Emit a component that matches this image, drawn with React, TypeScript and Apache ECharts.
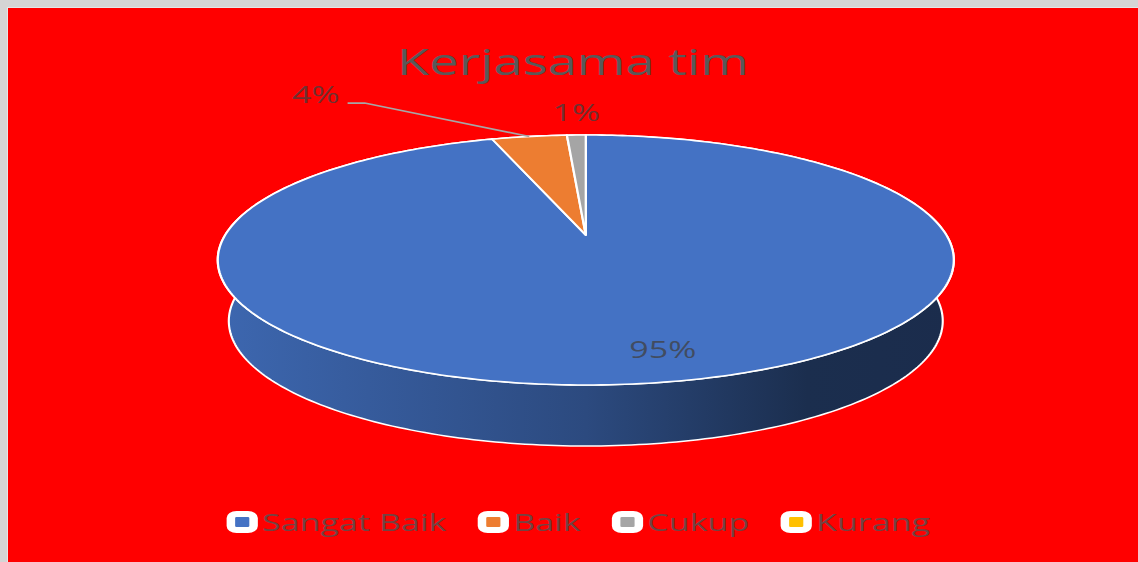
import React, { useEffect, useRef } from "react";
import * as echarts from "echarts";

// ---------- data ----------
const TITLE = "Kerjasama tim";
const CATEGORIES = ["Sangat Baik", "Baik", "Cukup", "Kurang"];
const VALUES = [95, 4, 1, 0];
const COLORS = ["#4472C4", "#ED7D31", "#A5A5A5", "#FFC000"];

// ---------- layout (unstretched chart coordinates) ----------
const W = 796;
const H = 554;
const STRETCH = 1130 / W;
const FONT = "'Open Sans', 'Noto Sans', sans-serif";
const PIE = { cx: 407, cy: 227, A: 254, B: 120, persp: 0.2, depth: 61, bottomScale: 0.97 };

// label placement per category
const LABEL_LAYOUT: any[] = [
  { mode: "inside", f: 0.81, dx: 16, dy: 0 },
  { mode: "leader", bend: [-116, -33.4], end: [-128, -33.4], text: [-150.4, -42.4] },
  { mode: "outside", dx: 0, dy: -23 },
  { mode: "outside", dx: 0, dy: -23 },
];

const SUM = VALUES.reduce((a, b) => a + b, 0);
const SLICES = (() => {
  let acc = 0;
  return VALUES.map((v) => {
    const s0 = (acc / SUM) * 360;
    acc += v;
    const s1 = (acc / SUM) * 360;
    return [s0, s1, v];
  });
})();

function pt(theta: number, f = 1, bottom = false): number[] {
  const t = (theta * Math.PI) / 180;
  const u = f * Math.sin(t);
  const v = f * Math.cos(t);
  const d = 1 + PIE.persp * v;
  const k = bottom ? PIE.bottomScale : 1;
  return [PIE.cx + (PIE.A * k * u) / d, PIE.cy - (PIE.B * v) / d + (bottom ? PIE.depth : 0)];
}

function shade(hex: string, k: number): string {
  const n = parseInt(hex.slice(1), 16);
  const r = Math.round(((n >> 16) & 255) * k);
  const g = Math.round(((n >> 8) & 255) * k);
  const b = Math.round((n & 255) * k);
  return `rgb(${r},${g},${b})`;
}

function makeSeries(i: number) {
  const color = COLORS[i];
  const lay = LABEL_LAYOUT[i];
  return {
    type: "custom",
    name: CATEGORIES[i],
    coordinateSystem: "none",
    silent: true,
    itemStyle: { color },
    data: [SLICES[i]],
    renderItem: (params: any, api: any) => {
      const s0 = api.value(0);
      const s1 = api.value(1);
      const val = api.value(2);
      if (!(s1 - s0 > 0)) return { type: "group", children: [] };
      const n = Math.max(2, Math.ceil(s1 - s0));
      const topArc: number[][] = [];
      const botArc: number[][] = [];
      for (let k = 0; k <= n; k++) {
        const th = s0 + ((s1 - s0) * k) / n;
        topArc.push(pt(th));
        botArc.push(pt(th, 1, true));
      }
      const apex = pt(0, 0);
      const children: any[] = [];
      children.push({
        type: "polygon",
        z2: 0,
        shape: { points: topArc.concat(botArc.slice().reverse()) },
        style: {
          fill: {
            type: "linear",
            x: PIE.cx - PIE.A - 6,
            y: 0,
            x2: PIE.cx + PIE.A + 6,
            y2: 0,
            global: true,
            colorStops: [
              { offset: 0, color: shade(color, 0.9) },
              { offset: 0.5, color: shade(color, 0.65) },
              { offset: 0.8, color: shade(color, 0.4) },
              { offset: 1, color: shade(color, 0.39) },
            ],
          },
          stroke: "#ffffff",
          lineWidth: 1.5,
          lineJoin: "round",
        },
      });
      children.push({
        type: "polygon",
        z2: 10,
        shape: { points: [apex].concat(topArc) },
        style: { fill: color, stroke: "#ffffff", lineWidth: 1.6, lineJoin: "round" },
      });
      const label = Math.round((val / SUM) * 100) + "%";
      const mid = (s0 + s1) / 2;
      const textStyle = {
        fill: "rgba(64,64,64,0.75)",
        fontSize: 24,
        fontFamily: FONT,
        align: "center",
        verticalAlign: "middle",
      };
      if (lay.mode === "inside") {
        const p = pt(mid, lay.f);
        children.push({ type: "text", z2: 20, style: { ...textStyle, text: label, x: p[0] + lay.dx, y: p[1] + lay.dy } });
      } else if (lay.mode === "outside") {
        const p = pt(mid);
        children.push({ type: "text", z2: 20, style: { ...textStyle, text: label, x: p[0] + lay.dx, y: p[1] + lay.dy } });
      } else {
        const p = pt(mid);
        children.push({
          type: "polyline",
          z2: 20,
          shape: {
            points: [
              p,
              [p[0] + lay.bend[0], p[1] + lay.bend[1]],
              [p[0] + lay.end[0], p[1] + lay.end[1]],
            ],
          },
          style: { stroke: "#a6a6a6", lineWidth: 1.6, fill: null },
        });
        children.push({
          type: "text",
          z2: 20,
          style: { ...textStyle, text: label, x: p[0] + lay.text[0], y: p[1] + lay.text[1] },
        });
      }
      return { type: "group", children };
    },
  };
}

const option: any = {
  animation: false,
  backgroundColor: "#FF0000",
  title: {
    text: TITLE,
    left: "center",
    top: 29,
    textStyle: { fontFamily: FONT, fontSize: 37, fontWeight: "normal", color: "#595959" },
  },
  legend: {
    data: CATEGORIES,
    left: 154,
    top: 502,
    padding: 0,
    itemGap: 22,
    itemWidth: 16,
    itemHeight: 16,
    icon: "roundRect",
    itemStyle: { borderColor: "#ffffff", borderWidth: 6 },
    textStyle: { fontFamily: FONT, fontSize: 24, color: "rgba(89,80,80,0.85)", padding: [0, 0, 0, 1] },
  },
  series: CATEGORIES.map((_, i) => makeSeries(i)),
};

export default function App() {
  const ref = useRef<HTMLDivElement>(null);
  useEffect(() => {
    const chart = echarts.init(ref.current as HTMLDivElement, null, { renderer: "svg" });
    chart.setOption(option);
    return () => chart.dispose();
  }, []);
  return (
    <div
      style={{
        position: "fixed",
        left: 0,
        top: 0,
        width: 1138,
        height: 562,
        background: "#d5d5d5",
        overflow: "hidden",
      }}
    >
      <div style={{ position: "absolute", left: 7, top: 7, width: 1131, height: 555, background: "#e6e6e6" }} />
      <div
        ref={ref}
        style={{
          position: "absolute",
          left: 8,
          top: 8,
          width: W,
          height: H,
          transform: `scaleX(${STRETCH})`,
          transformOrigin: "0 0",
        }}
      />
    </div>
  );
}
